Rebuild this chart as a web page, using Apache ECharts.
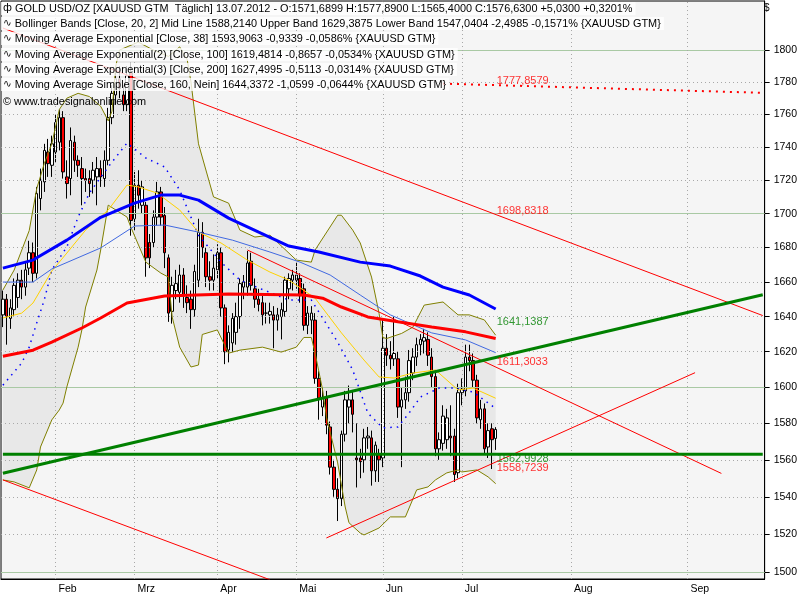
<!DOCTYPE html>
<html lang="de">
<head>
<meta charset="utf-8">
<title>GOLD USD/OZ</title>
<script src="https://cdn.jsdelivr.net/npm/echarts@6.0.0/dist/echarts.min.js"></script>
<style>
  html, body { margin: 0; padding: 0; background: #fff; }
  #chart { width: 800px; height: 600px; }
</style>
</head>
<body>
<div id="chart"></div>
<script>
var FONT = "'Liberation Sans', Arial, sans-serif";

// Tageskerzen 12.01.2012 - 13.07.2012: [open, high, low, close]
var candles = [
  [1641, 1655, 1634, 1650], [1650, 1653, 1624, 1640], [1639, 1650, 1633, 1645], [1644, 1662, 1640, 1658],
  [1651, 1665, 1645, 1661], [1661, 1667, 1650, 1657], [1657, 1672, 1652, 1667], [1668, 1684, 1664, 1677],
  [1677, 1683, 1660, 1665], [1665, 1716, 1662, 1712], [1709, 1727, 1702, 1720], [1719, 1742, 1713, 1738],
  [1737, 1745, 1722, 1730], [1729, 1747, 1722, 1742], [1737, 1760, 1731, 1755], [1743, 1763, 1738, 1758],
  [1758, 1762, 1721, 1725], [1722, 1732, 1709, 1718], [1721, 1752, 1711, 1744], [1743, 1747, 1725, 1732],
  [1732, 1735, 1722, 1729], [1727, 1734, 1705, 1721], [1721, 1727, 1713, 1720], [1721, 1726, 1710, 1718],
  [1720, 1731, 1712, 1726], [1722, 1734, 1705, 1727], [1727, 1732, 1716, 1722], [1721, 1738, 1716, 1732],
  [1732, 1764, 1729, 1758], [1758, 1778, 1754, 1773], [1772, 1788, 1766, 1782], [1782, 1790, 1770, 1776],
  [1772, 1778, 1762, 1766], [1766, 1790, 1762, 1784], [1786, 1792, 1687, 1696], [1697, 1725, 1690, 1717],
  [1717, 1726, 1703, 1711], [1705, 1720, 1700, 1716], [1705, 1707, 1663, 1674], [1683, 1688, 1668, 1674],
  [1683, 1702, 1680, 1698], [1698, 1719, 1693, 1713], [1713, 1716, 1693, 1698], [1699, 1704, 1668, 1677],
  [1674, 1676, 1637, 1642], [1643, 1663, 1636, 1658], [1655, 1667, 1650, 1659], [1654, 1670, 1648, 1664],
  [1664, 1668, 1645, 1652], [1651, 1658, 1642, 1648], [1650, 1655, 1633, 1644], [1644, 1670, 1640, 1666],
  [1661, 1697, 1657, 1689], [1689, 1695, 1674, 1680], [1677, 1680, 1657, 1663], [1663, 1672, 1655, 1661],
  [1661, 1676, 1655, 1668], [1667, 1682, 1662, 1677], [1677, 1680, 1640, 1645], [1645, 1647, 1613, 1620],
  [1621, 1635, 1614, 1631], [1625, 1642, 1620, 1639], [1631, 1648, 1624, 1640], [1640, 1662, 1633, 1659],
  [1657, 1664, 1650, 1660], [1657, 1678, 1652, 1671], [1672, 1677, 1655, 1658], [1656, 1662, 1645, 1650],
  [1650, 1656, 1643, 1647], [1648, 1652, 1635, 1641], [1642, 1648, 1636, 1642], [1641, 1648, 1636, 1643],
  [1641, 1646, 1622, 1638], [1638, 1645, 1632, 1641], [1640, 1648, 1627, 1644], [1643, 1663, 1640, 1661],
  [1656, 1665, 1650, 1662], [1661, 1667, 1655, 1664], [1661, 1671, 1656, 1664], [1662, 1665, 1648, 1652],
  [1656, 1659, 1632, 1635], [1635, 1646, 1630, 1642], [1638, 1646, 1630, 1642], [1638, 1642, 1602, 1605],
  [1605, 1609, 1582, 1594], [1589, 1600, 1584, 1594], [1594, 1598, 1574, 1579], [1578, 1581, 1552, 1556],
  [1556, 1560, 1540, 1544], [1544, 1550, 1527, 1539], [1539, 1576, 1535, 1574], [1574, 1598, 1570, 1593],
  [1589, 1601, 1580, 1593], [1593, 1598, 1575, 1585], [1561, 1580, 1545, 1560], [1561, 1566, 1550, 1559],
  [1560, 1577, 1553, 1572], [1572, 1578, 1566, 1573], [1572, 1576, 1546, 1554], [1554, 1570, 1548, 1568],
  [1563, 1566, 1548, 1560], [1561, 1638, 1556, 1622], [1622, 1630, 1612, 1618], [1618, 1626, 1610, 1616],
  [1616, 1640, 1612, 1619], [1616, 1620, 1583, 1589], [1589, 1600, 1556, 1593], [1593, 1606, 1588, 1597],
  [1597, 1621, 1592, 1615], [1608, 1622, 1604, 1617], [1617, 1628, 1612, 1624], [1624, 1630, 1618, 1627],
  [1626, 1633, 1619, 1628], [1627, 1631, 1612, 1618], [1617, 1622, 1600, 1606], [1606, 1609, 1562, 1566],
  [1566, 1575, 1560, 1571], [1569, 1590, 1565, 1584], [1571, 1588, 1566, 1583], [1573, 1590, 1562, 1572],
  [1573, 1577, 1548, 1552], [1553, 1602, 1550, 1597], [1597, 1605, 1590, 1599], [1598, 1624, 1595, 1617],
  [1617, 1624, 1609, 1615], [1615, 1619, 1600, 1604], [1604, 1607, 1580, 1583], [1582, 1593, 1577, 1588],
  [1588, 1591, 1563, 1566], [1567, 1580, 1561, 1576], [1577, 1580, 1555, 1571], [1571.69, 1577.89, 1565.40, 1576.63]
];

// Indikatoren: [bar, wert]
var sma160 = [[0, 1668], [8, 1672.7], [17, 1684.4], [26, 1697.9], [35, 1706.3], [42, 1711.1], [47, 1711.1],
  [52, 1708.1], [60, 1697.4], [68, 1689.1], [76, 1680.9], [84, 1677.4], [95, 1671.5], [103, 1669.2],
  [111, 1663.4], [117, 1657], [124, 1652.4], [131, 1644.34]];
var ema200 = [[0, 1617.5], [8, 1620.9], [13, 1625.4], [21, 1633.5], [26, 1639.2], [33, 1647.8], [43, 1651.8],
  [60, 1653], [80, 1652.4], [85, 1650.6], [90, 1645.5], [97, 1639.8], [105, 1637], [114, 1634.1],
  [123, 1631.3], [131, 1627.5]];
var ema100 = [[0, 1659.9], [8, 1659.9], [13, 1667.5], [26, 1679.8], [35, 1692.7], [43, 1693.3], [52, 1689.1],
  [61, 1684.4], [71, 1677.4], [79, 1671.5], [87, 1664], [95, 1652.4], [103, 1641], [114, 1630.7],
  [123, 1626.7], [131, 1619.48]];
var ema38 = [[0, 1639.2], [5, 1642], [8, 1647.8], [13, 1666.3], [17, 1676.8], [22, 1690.3], [28, 1702.2],
  [33, 1717.1], [36, 1716], [41, 1712.3], [47, 1702.2], [52, 1689.1], [58, 1682.7], [65, 1672.7],
  [71, 1665.7], [76, 1661.1], [83, 1650.6], [90, 1630.7], [96, 1615.3], [100, 1605.8], [104, 1605.2],
  [109, 1608], [115, 1609.7], [121, 1598.5], [125, 1599.6], [131, 1593.91]];
var bbMid = [[0, 1601.2], [5, 1613.6], [7, 1622.6], [9, 1636.4], [11, 1649.5], [13, 1666.9], [17, 1680.4],
  [20, 1698], [23, 1712.3], [28, 1728], [33, 1742.5], [38, 1733.4], [43, 1728], [47, 1714.1], [52, 1687.3],
  [58, 1671.5], [63, 1661.1], [68, 1656.5], [76, 1649.5], [82, 1649.5], [85, 1639.2], [89, 1625.4],
  [93, 1609.7], [97, 1585.7], [101, 1577.5], [105, 1578], [108, 1585.7], [111, 1594.6], [116, 1599.6],
  [120, 1599.6], [125, 1597.4], [131, 1588.21]];
var bbUpper = [[0, 1655.3], [3, 1666.9], [7, 1690], [9, 1715], [11, 1730], [13, 1742], [15, 1763],
  [17, 1770], [20, 1773], [23, 1771], [26, 1765], [28, 1756], [29, 1762], [30, 1790], [31, 1800],
  [36, 1805], [40, 1800], [44, 1796], [47, 1802], [49, 1794], [50, 1780], [52, 1742], [56, 1710],
  [60, 1706.3], [63, 1690.3], [67, 1686.2], [71, 1687.3], [78, 1672.7], [82, 1671.5], [83, 1678.6],
  [89, 1699.1], [90, 1699.1], [93, 1690.3], [95, 1682.7], [98, 1662.8], [100, 1641.9], [101, 1628.1],
  [102, 1627.5], [106, 1630.4], [109, 1634], [112, 1646.6], [117, 1648.4], [121, 1641], [124, 1641],
  [128, 1638.1], [131, 1629.39]];
var bbLower = [[0, 1549.1], [3, 1548], [7, 1544.8], [9, 1554.5], [10, 1567], [13, 1581.9], [15, 1587.4],
  [16, 1591.2], [17, 1600.2], [20, 1622.6], [21, 1632.4], [22, 1645.5], [25, 1666.9], [26, 1678.6],
  [28, 1705.1], [33, 1698], [34, 1692.1], [38, 1671.5], [42, 1665.1], [44, 1662.8], [45, 1639.8],
  [47, 1622.6], [50, 1611.4], [52, 1612.5], [53, 1629.8], [57, 1632.4], [60, 1619.2], [63, 1620.9],
  [69, 1622.6], [74, 1619.8], [78, 1622.6], [80, 1628.1], [82, 1628.1], [83, 1619.2], [85, 1598.5],
  [86, 1583.6], [89, 1558.3], [91, 1534.5], [92, 1526.1], [95, 1520.6], [96, 1519.6], [100, 1523.3],
  [103, 1529.2], [107, 1529.2], [110, 1543.7], [113, 1545.3], [115, 1549.1], [118, 1552.9], [121, 1554.5],
  [122, 1553.4], [126, 1554.5], [129, 1550.7], [131, 1547.04]];

// Trendlinien: [bar, wert]
var redChannelTop = [[0, 1813.9], [202, 1640.6]];
var redChannelBottom = [[0, 1549.1], [71, 1496]];
var redDown = [[65, 1678.6], [191, 1552.6]];
var redUp = [[86, 1518], [184, 1608.2]];
var greenUp = [[0, 1552.7], [202, 1652.6]];
var greenFlat = [[0, 1562.99], [202, 1562.99]];
var smaProjection = [[117, 1779], [202, 1773.3]];

var valueLabels = [
  { value: 1777.86, text: '1777,8579', color: '#ff0000', dy: -5 },
  { value: 1698.83, text: '1698,8318', color: '#ff0000', dy: -5 },
  { value: 1641.14, text: '1641,1387', color: '#008000', dy: 7 },
  { value: 1611.30, text: '1611,3033', color: '#ff0000', dy: -5 },
  { value: 1562.99, text: '1562,9928', color: '#008000', dy: 5 },
  { value: 1558.72, text: '1558,7239', color: '#ff0000', dy: 6 }
];

var yTicks = [1500, 1520, 1540, 1560, 1580, 1600, 1620, 1640, 1660, 1680, 1700, 1720, 1740, 1760, 1780, 1800];
var yMajor = [1500, 1600, 1700, 1800];
var monthNames = ['Jan', 'Feb', 'Mrz', 'Apr', 'Mai', 'Jun', 'Jul', 'Aug', 'Sep'];

var legendRows = [
  { text: '{i|\u0444} GOLD USD/OZ [XAUUSD GTM  T\u00e4glich] 13.07.2012 - {g|O:1571,6899} H:1577,8900 L:1565,4000 {g|C:1576,6300 +5,0300 +0,3201%}', bg: true },
  { text: '{i|\u223f} Bollinger Bands [Close, 20, 2] {b|Mid Line 1588,2140} {o|Upper Band 1629,3875 Lower Band 1547,0404} {r|-2,4985 -0,1571%} {XAUUSD GTM}', bg: true },
  { text: '{i|\u223f} Moving Average Exponential [Close, 38] {y|1593,9063} {r|-0,9339 -0,0586%} {XAUUSD GTM}', bg: true },
  { text: '{i|\u223f} Moving Average Exponential(2) [Close, 100] {rb|1619,4814} {r|-0,8657 -0,0534%} {XAUUSD GTM}', bg: true },
  { text: '{i|\u223f} Moving Average Exponential(3) [Close, 200] {r|1627,4995 -0,5113 -0,0314%} {XAUUSD GTM}', bg: true },
  { text: '{i|\u223f} Moving Average Simple [Close, 160, Nein] {b|1644,3372} {r|-1,0599 -0,0644%} {XAUUSD GTM}', bg: true },
  { text: '\u00a9 www.tradesignalonline.com', bg: false }
];
var legendTops = [2, 17, 32, 48, 63, 78, 95];

function pad(n) { return n < 10 ? '0' + n : '' + n; }
function fmt(d) { return d.getFullYear() + '-' + pad(d.getMonth() + 1) + '-' + pad(d.getDate()); }

// Handelstage, eine Leerstelle, danach Kalendertage bis Ende der Zeitachse
var days = [];
var d = new Date(2012, 0, 12);
while (d <= new Date(2012, 6, 13)) {
  if (d.getDay() !== 0 && d.getDay() !== 6) days.push(fmt(d));
  d.setDate(d.getDate() + 1);
}
days.push('');
d = new Date(2012, 6, 14);
while (d <= new Date(2012, 8, 21)) {
  days.push(fmt(d));
  d.setDate(d.getDate() + 1);
}

var monthStart = [];
var lastMonth = null;
for (var k = 0; k < days.length; k++) {
  if (!days[k]) { monthStart.push(false); continue; }
  var m = days[k].substr(5, 2);
  monthStart.push(lastMonth !== null && m !== lastMonth);
  lastMonth = m;
}
function isMonthStart(i) { return monthStart[i]; }

var gridLines = yTicks.map(function (v) {
  var major = yMajor.indexOf(v) >= 0;
  return {
    yAxis: v,
    lineStyle: major ? { color: '#a9c9a4', type: 'solid', width: 1 } : { color: '#a8a8a8', type: [1, 3], width: 1 }
  };
});
days.forEach(function (day, i) {
  if (monthStart[i]) gridLines.push({ xAxis: day, lineStyle: { color: '#a8a8a8', type: [1, 3], width: 1 } });
});

function trend(data, color, width, type, z) {
  return {
    type: 'line', data: data, symbol: 'none', silent: true, z: z || 5,
    lineStyle: { color: color, width: width, type: type || 'solid' }
  };
}

var LF = 10.9;
var richStyles = {
  i: { color: '#000', fontFamily: 'DejaVu Sans', fontSize: 10.5 },
  g: { color: '#00a000', fontFamily: FONT, fontSize: LF },
  b: { color: '#0000ff', fontFamily: FONT, fontSize: LF },
  o: { color: '#808000', fontFamily: FONT, fontSize: LF },
  r: { color: '#ff0000', fontFamily: FONT, fontSize: LF },
  y: { color: '#f0c000', fontFamily: FONT, fontSize: LF },
  rb: { color: '#4169e1', fontFamily: FONT, fontSize: LF }
};

var legendGraphics = legendRows.map(function (row, n) {
  return {
    type: 'text', left: 1, top: legendTops[n], z: 100, silent: true,
    style: {
      text: row.text, rich: richStyles, fill: '#000',
      fontFamily: FONT, fontSize: LF,
      backgroundColor: row.bg ? 'rgba(255,255,255,0.78)' : 'transparent',
      padding: [1, 3, 1, 2]
    }
  };
});
legendGraphics.push({
  type: 'text', left: 764, top: 3, z: 100, silent: true,
  style: { text: '$', fill: '#000', fontFamily: FONT, fontSize: 10 }
});

var chart = echarts.init(document.getElementById('chart'));

chart.setOption({
  animation: false,
  backgroundColor: '#ffffff',
  grid: {
    left: 1, right: 34, top: 1, bottom: 21,
    show: true, backgroundColor: '#f5f5f5', borderColor: '#000', borderWidth: 1
  },
  xAxis: {
    type: 'category', data: days, boundaryGap: true,
    axisLine: { lineStyle: { color: '#000' } },
    axisTick: { alignWithLabel: true, interval: isMonthStart, length: 7, lineStyle: { color: '#000' } },
    axisLabel: {
      interval: isMonthStart, align: 'left', margin: 5, padding: [0, 0, 0, 3],
      color: '#000', fontFamily: FONT, fontSize: 10.5,
      formatter: function (v) { return v ? monthNames[parseInt(v.substr(5, 2), 10) - 1] : ''; }
    },
    splitLine: { show: false }
  },
  yAxis: {
    type: 'log', position: 'right', min: 1496.4, max: 1831.1,
    axisLine: { show: true, lineStyle: { color: '#000' } },
    axisTick: { show: true, customValues: yTicks, length: 5, lineStyle: { color: '#000' } },
    axisLabel: {
      customValues: yTicks, margin: 9, color: '#000', fontFamily: FONT, fontSize: 10.5,
      formatter: function (v) { return String(Math.round(v)); }
    },
    splitLine: { show: false }
  },
  graphic: legendGraphics,
  series: [
    {
      type: 'line', data: [], silent: true, z: 1,
      markLine: { silent: true, symbol: 'none', label: { show: false }, data: gridLines, animation: false }
    },
    {
      type: 'custom', silent: true, z: 1,
      data: [[0, 1600]],
      renderItem: function (params, api) {
        var pts = [];
        bbUpper.forEach(function (p) { pts.push(api.coord(p)); });
        for (var j = bbLower.length - 1; j >= 0; j--) pts.push(api.coord(bbLower[j]));
        return { type: 'polygon', shape: { points: pts }, style: { fill: '#e8e8e8' } };
      }
    },
    {
      type: 'candlestick', z: 3, barWidth: 3,
      data: candles.map(function (c) { return [c[0], c[3], c[2], c[1]]; }),
      itemStyle: { color: '#ffffff', color0: '#ff0000', borderColor: '#000', borderColor0: '#000', borderWidth: 1 }
    },
    trend(bbUpper, '#808000', 1),
    trend(bbLower, '#808000', 1),
    trend(bbMid, '#0000ff', 1.5, [1.5, 5]),
    trend(ema38, '#ffd200', 1),
    trend(ema100, '#4169e1', 1),
    trend(ema200, '#ff0000', 3),
    trend(sma160, '#0000ff', 3),
    trend(redChannelTop, '#ff0000', 1, 'solid', 6),
    trend(redChannelBottom, '#ff0000', 1, 'solid', 6),
    trend(redDown, '#ff0000', 1, 'solid', 6),
    trend(redUp, '#ff0000', 1, 'solid', 6),
    trend(greenUp, '#008000', 3, 'solid', 6),
    trend(greenFlat, '#008000', 3, 'solid', 6),
    trend(smaProjection, '#ff0000', 2, [2, 5], 6),
    {
      type: 'scatter', z: 7, silent: true, symbolSize: 2,
      itemStyle: { color: 'rgba(0,0,0,0)' },
      data: valueLabels.map(function (l) {
        return {
          value: [131, l.value],
          label: {
            show: true, formatter: l.text, color: l.color, position: 'right', distance: 0,
            offset: [0, l.dy], fontFamily: FONT, fontSize: 11
          }
        };
      })
    }
  ]
});
</script>
</body>
</html>
